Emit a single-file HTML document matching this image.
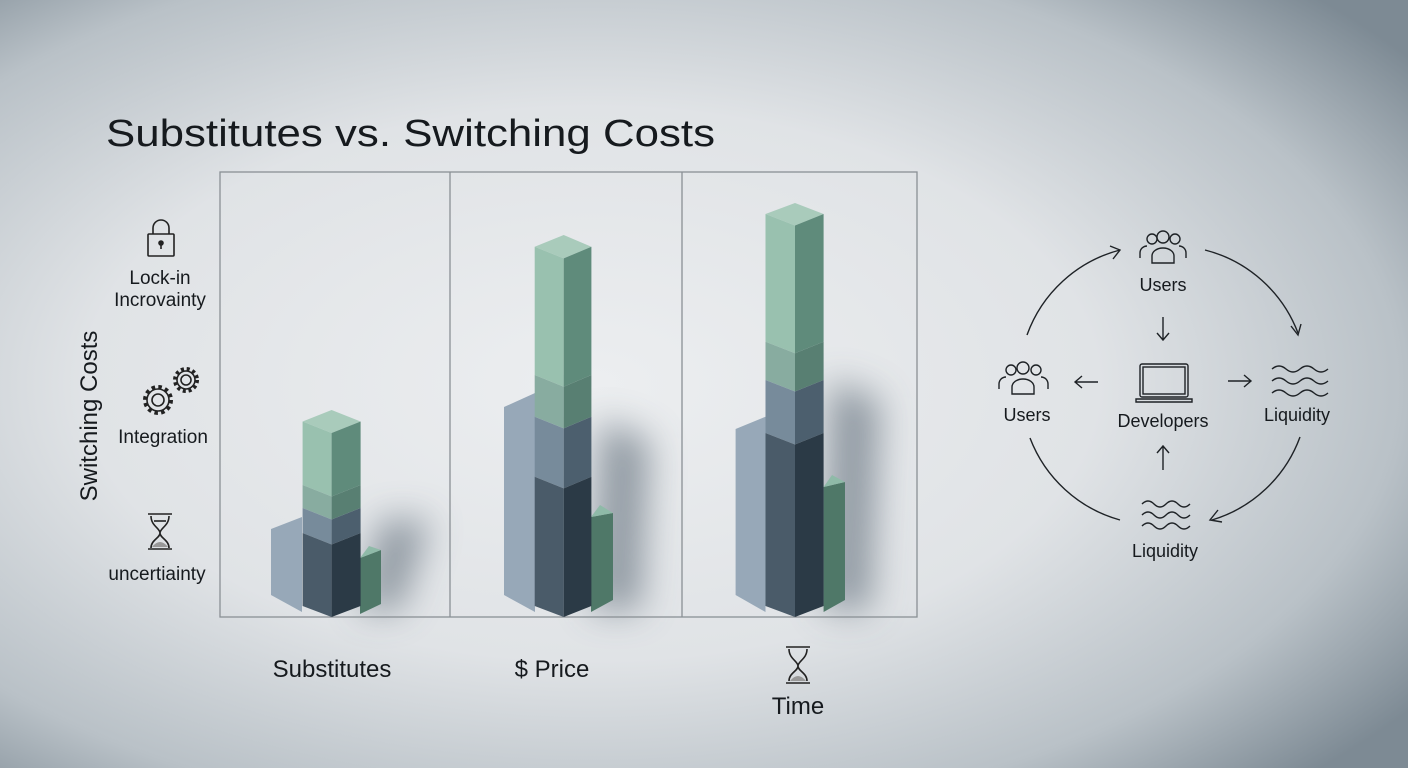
<!DOCTYPE html>
<html><head><meta charset="utf-8"><style>
html,body{margin:0;padding:0;width:1408px;height:768px;overflow:hidden}
svg{display:block}
text{font-family:"Liberation Sans",sans-serif;fill:#161a1e}
</style></head><body>
<svg width="1408" height="768" viewBox="0 0 1408 768" xmlns="http://www.w3.org/2000/svg">
<defs>
<radialGradient id="bg" cx="0.42" cy="0.5" r="0.72">
<stop offset="0" stop-color="#eceef0"/>
<stop offset="0.5" stop-color="#e0e3e6"/>
<stop offset="0.8" stop-color="#b9c1c7"/>
<stop offset="1" stop-color="#7d8a94"/>
</radialGradient>
<filter id="bl" x="-50%" y="-50%" width="200%" height="200%"><feGaussianBlur stdDeviation="18"/></filter>
</defs>
<rect width="1408" height="768" fill="url(#bg)"/>

<g filter="url(#bl)" opacity="0.55">
<polygon points="360,610 380,520 430,520 400,610" fill="#4a5866"/>
<polygon points="592,610 600,420 650,440 640,610" fill="#4a5866"/>
<polygon points="824,610 830,380 880,400 870,610" fill="#4a5866"/>
</g>

<rect x="220" y="172" width="697" height="445" fill="none" stroke="#8a9095" stroke-width="1.3"/>
<line x1="450" y1="172" x2="450" y2="617" stroke="#8a9095" stroke-width="1.3"/>
<line x1="682" y1="172" x2="682" y2="617" stroke="#8a9095" stroke-width="1.3"/>

<polygon points="271,529 302,517 302,612 271,595" fill="#97a8b8"/>
<polygon points="360,558 381,550 381,604 360,614" fill="#4f7868"/>
<polygon points="360,558 369,546 381,550" fill="#8fbaa8"/>
<polygon points="302.6,421.5 331.6,410 360.6,421.5 331.6,433" fill="#a9cbbb"/>
<polygon points="302.6,421.5 331.6,433 331.6,496.5 302.6,485" fill="#99c1af"/>
<polygon points="331.6,433 360.6,421.5 360.6,485 331.6,496.5" fill="#5f8b7b"/>
<polygon points="302.6,485 331.6,496.5 331.6,519.5 302.6,508" fill="#88aca0"/>
<polygon points="331.6,496.5 360.6,485 360.6,508 331.6,519.5" fill="#587f72"/>
<polygon points="302.6,508 331.6,519.5 331.6,544.5 302.6,533" fill="#778b9b"/>
<polygon points="331.6,519.5 360.6,508 360.6,533 331.6,544.5" fill="#4c5f6e"/>
<polygon points="302.6,533 331.6,544.5 331.6,617 302.6,606" fill="#4a5b69"/>
<polygon points="331.6,544.5 360.6,533 360.6,606 331.6,617" fill="#2b3a46"/>

<polygon points="504,407 535,393 535,612 504,595" fill="#97a8b8"/>
<polygon points="591,517 613,513 613,600 591,612" fill="#4f7868"/>
<polygon points="591,517 600,505 613,513" fill="#8fbaa8"/>
<polygon points="534.7,246.7 563.7,235 591.4,246.7 563.7,258.4" fill="#a9cbbb"/>
<polygon points="534.7,246.7 563.7,258.4 563.7,386.7 534.7,375" fill="#99c1af"/>
<polygon points="563.7,258.4 591.4,246.7 591.4,375 563.7,386.7" fill="#5f8b7b"/>
<polygon points="534.7,375 563.7,386.7 563.7,428.4 534.7,416.7" fill="#88aca0"/>
<polygon points="563.7,386.7 591.4,375 591.4,416.7 563.7,428.4" fill="#587f72"/>
<polygon points="534.7,416.7 563.7,428.4 563.7,488.4 534.7,476.7" fill="#778b9b"/>
<polygon points="563.7,428.4 591.4,416.7 591.4,476.7 563.7,488.4" fill="#4c5f6e"/>
<polygon points="534.7,476.7 563.7,488.4 563.7,617 534.7,606" fill="#4a5b69"/>
<polygon points="563.7,488.4 591.4,476.7 591.4,606 563.7,617" fill="#2b3a46"/>

<polygon points="735.6,429 765.5,416.7 765.5,612 735.6,595" fill="#97a8b8"/>
<polygon points="823.6,487 845,482 845,600 823.6,612" fill="#4f7868"/>
<polygon points="823.6,487 832,475 845,482" fill="#8fbaa8"/>
<polygon points="765.5,214 795,203 823.6,214 795,225.5" fill="#a9cbbb"/>
<polygon points="765.5,214 795,225.5 795,353.2 765.5,341.7" fill="#99c1af"/>
<polygon points="795,225.5 823.6,214 823.6,341.7 795,353.2" fill="#5f8b7b"/>
<polygon points="765.5,341.7 795,353.2 795,391.5 765.5,380" fill="#88aca0"/>
<polygon points="795,353.2 823.6,341.7 823.6,380 795,391.5" fill="#587f72"/>
<polygon points="765.5,380 795,391.5 795,444.5 765.5,433" fill="#778b9b"/>
<polygon points="795,391.5 823.6,380 823.6,433 795,444.5" fill="#4c5f6e"/>
<polygon points="765.5,433 795,444.5 795,617 765.5,606" fill="#4a5b69"/>
<polygon points="795,444.5 823.6,433 823.6,606 795,617" fill="#2b3a46"/>

<text x="106" y="146" font-size="38" textLength="609" lengthAdjust="spacingAndGlyphs">Substitutes vs. Switching Costs</text>

<text transform="translate(97,416) rotate(-90)" font-size="24" text-anchor="middle">Switching Costs</text>

<g fill="none" stroke="#222" stroke-width="1.6">
<rect x="148" y="234" width="26" height="22" rx="1"/>
<path d="M153,234 v-6 a8,8 0 0 1 16,0 v6"/>
<circle cx="161" cy="243" r="2" fill="#222"/><line x1="161" y1="244" x2="161" y2="249"/>
<circle cx="158" cy="400" r="6"/><circle cx="158" cy="400" r="11"/>
<circle cx="158" cy="400" r="13" stroke-width="4" stroke-dasharray="3.5 3.3"/>
<circle cx="186" cy="380" r="5"/><circle cx="186" cy="380" r="9"/>
<circle cx="186" cy="380" r="11" stroke-width="4" stroke-dasharray="3 2.8"/>
<path d="M148,514 h24 M148,549 h24 M151,516 c0,10 9,12 9,17 c0,5 -9,7 -9,15 M169,516 c0,10 -9,12 -9,17 c0,5 9,7 9,15"/>
<line x1="154" y1="521" x2="166" y2="521"/>
</g>
<path d="M152,547 q8,-10 16,0z" fill="#999"/>
<g font-size="19" text-anchor="middle">
<text x="160" y="284">Lock-in</text>
<text x="160" y="306">Incrovainty</text>
<text x="163" y="443">Integration</text>
<text x="157" y="580">uncertiainty</text>
</g>

<g font-size="24" text-anchor="middle">
<text x="332" y="677">Substitutes</text>
<text x="552" y="677">$ Price</text>
<text x="798" y="714">Time</text>
</g>
<g fill="none" stroke="#222" stroke-width="1.6">
<path d="M786,647 h24 M786,683 h24 M789,649 c0,10 9,12 9,17 c0,5 -9,7 -9,15 M807,649 c0,10 -9,12 -9,17 c0,5 9,7 9,15"/>
</g>
<path d="M790,681 q8,-10 16,0z" fill="#999"/>

<g fill="none" stroke="#1e2226" stroke-width="1.4">
<path d="M1027,335 A135,135 0 0 1 1120,250"/>
<path d="M1110,246 L1120,250 L1113,259"/>
<path d="M1205,250 A135,135 0 0 1 1298,333"/>
<path d="M1291,326 L1298,335 L1301,324"/>
<path d="M1300,437 A135,135 0 0 1 1212,520"/>
<path d="M1218,510 L1210,520 L1222,522"/>
<path d="M1120,520 A135,135 0 0 1 1030,438"/>
<path d="M1163,317 v22 M1157,333 l6,7 l6,-7"/>
<path d="M1098,382 h-23 M1082,376 l-7,6 l7,6"/>
<path d="M1228,381 h23 M1244,375 l7,6 l-7,6"/>
<path d="M1163,470 v-23 M1157,453 l6,-7 l6,7"/>
<circle cx="1152" cy="239" r="5"/><circle cx="1163" cy="237" r="6"/><circle cx="1175" cy="239" r="5"/>
<path d="M1140,258 v-5 a7,7 0 0 1 7,-7 M1186,258 v-5 a7,7 0 0 0 -7,-7 M1152,263 v-7 a11,8 0 0 1 22,0 v7 z"/>
<circle cx="1011" cy="370" r="5"/><circle cx="1023" cy="368" r="6"/><circle cx="1036" cy="370" r="5"/>
<path d="M999,389 v-5 a7,7 0 0 1 7,-7 M1048,389 v-5 a7,7 0 0 0 -7,-7 M1012,394 v-7 a11,8 0 0 1 22,0 v7 z"/>
<rect x="1140" y="364" width="48" height="33" rx="2"/>
<rect x="1143" y="367" width="42" height="27"/>
<path d="M1136,399 h56 v3 h-56 z"/>
<path d="M1272,369 q7,-6 14,0 t14,0 t14,0 t14,0 M1272,381 q7,-6 14,0 t14,0 t14,0 t14,0 M1272,393 q7,-6 14,0 t14,0 t14,0 t14,0"/>
<path d="M1142,504 q6,-6 12,0 t12,0 t12,0 t12,0 M1142,515 q6,-6 12,0 t12,0 t12,0 t12,0 M1142,526 q6,-6 12,0 t12,0 t12,0 t12,0"/>
</g>
<g font-size="18" text-anchor="middle">
<text x="1163" y="291">Users</text>
<text x="1027" y="421">Users</text>
<text x="1163" y="427">Developers</text>
<text x="1297" y="421">Liquidity</text>
<text x="1165" y="557">Liquidity</text>
</g>
</svg>
</body></html>
